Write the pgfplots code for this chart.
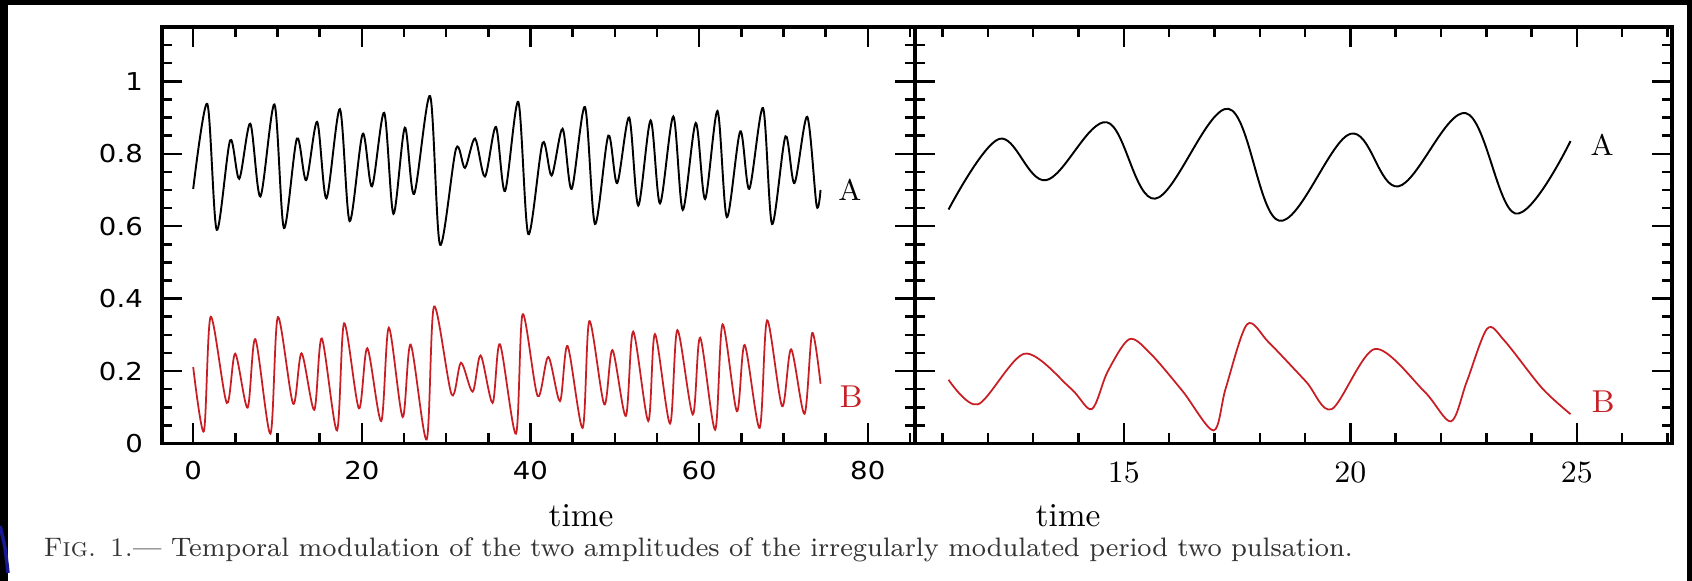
\documentclass[border=0pt]{standalone}
\usepackage{fontspec}
\usepackage{pgfplots}
\pgfplotsset{compat=1.18}
\usepackage{pgfplotstable}
\newfontfamily\dejavu[FakeStretch=1.12]{DejaVu Sans}
\definecolor{curvered}{RGB}{200,30,35}

% left panel: extrema of the two amplitudes, t = 0 ... 74.4
\pgfplotstableread{
t v
0.0 0.703
1.67 0.938
2.79 0.590
4.38 0.837
5.46 0.731
6.77 0.883
7.97 0.682
9.64 0.936
10.76 0.595
12.3 0.842
13.4 0.727
14.7 0.888
15.8 0.677
17.4 0.923
18.55 0.614
20.1 0.855
21.2 0.710
22.65 0.913
23.75 0.634
25.1 0.872
26.2 0.689
28.1 0.959
29.27 0.549
31.17 0.814
32.23 0.761
33.42 0.842
34.6 0.737
35.9 0.874
36.98 0.697
38.56 0.943
39.74 0.578
41.44 0.830
42.51 0.740
43.81 0.869
44.88 0.703
46.46 0.929
47.65 0.606
49.23 0.850
50.28 0.719
51.7 0.900
52.78 0.657
54.25 0.892
55.36 0.663
56.94 0.903
58.06 0.645
59.6 0.885
60.71 0.675
62.18 0.918
63.29 0.625
64.88 0.862
65.95 0.703
67.58 0.926
68.65 0.606
70.24 0.848
71.31 0.719
72.82 0.902
73.93 0.657
74.4 0.700
}\Aleft

\pgfplotstableread{
t v
0.0 0.211
1.27 0.034
2.07 0.350
3.98 0.112
4.98 0.248
6.45 0.099
7.37 0.288
9.16 0.027
10.04 0.349
11.85 0.110
12.85 0.249
14.36 0.093
15.25 0.290
17.05 0.036
17.9 0.332
19.65 0.097
20.65 0.263
22.3 0.062
23.2 0.320
24.84 0.073
25.79 0.273
27.69 0.011
28.56 0.378
30.65 0.135
31.76 0.223
33.14 0.143
34.09 0.243
35.51 0.112
36.38 0.274
38.28 0.027
39.07 0.357
40.85 0.131
42.11 0.239
43.5 0.117
44.4 0.269
46.19 0.043
46.98 0.338
48.75 0.108
49.72 0.258
51.31 0.076
52.18 0.309
53.97 0.062
54.76 0.302
56.55 0.055
57.42 0.313
59.25 0.080
60.12 0.292
61.9 0.038
62.78 0.329
64.48 0.089
65.4 0.272
67.18 0.043
68.06 0.340
69.84 0.103
70.91 0.260
72.5 0.082
73.41 0.305
74.4 0.165
}\Bleft

% right panel: close-up of t = 11 ... 25
\pgfplotstableread{
t v
11.13 0.646
12.25 0.841
13.28 0.727
14.62 0.887
15.69 0.676
17.31 0.924
18.43 0.615
20.0 0.855
21.06 0.710
22.55 0.912
23.64 0.635
24.86 0.835
}\Aright

\pgfplotstableread{
t v
11.13 0.176
11.78 0.108
12.81 0.248
13.82 0.153
14.29 0.095
14.64 0.198
15.12 0.288
15.59 0.248
16.3 0.144
16.98 0.036
17.25 0.153
17.72 0.329
18.2 0.279
19.02 0.171
19.59 0.095
20.54 0.261
21.63 0.144
22.22 0.061
22.57 0.171
23.02 0.317
23.4 0.284
24.23 0.153
24.86 0.081
}\Bright

\pgfplotsset{
  panel/.style={
    scale only axis,
    height=41.65mm,
    ymin=0, ymax=1.15,
    ytick={0,0.2,0.4,0.6,0.8,1},
    minor ytick={0.05,0.1,0.15,0.25,0.3,0.35,0.45,0.5,0.55,0.65,0.7,0.75,0.85,0.9,0.95,1.05,1.1},
    tick align=inside,
    xtick pos=both, ytick pos=both,
    major tick length=2mm, minor tick length=1mm,
    axis line style={line width=0.9pt},
    tick style={line width=0.7pt, black},
    /pgf/number format/assume math mode=true,
    xticklabel style={anchor=north, inner sep=0pt, yshift=-1.75mm},
    yticklabel style={anchor=east, inner sep=0pt, xshift=-1.85mm},
  },
}

\begin{document}
\begin{tikzpicture}
\useasboundingbox (0,0) rectangle (169.2mm,58.1mm);
\fill[black] (0,0) rectangle (169.2mm,58.1mm);
\fill[white] (0.8mm,0) rectangle (168.7mm,57.6mm);
\draw[color={rgb,255:red,25;green,25;blue,150}, line width=1pt]
  (0,5.5mm) .. controls (0.5mm,3.5mm) .. (0.8mm,0.8mm);

\begin{axis}[panel,
  at={(16.2mm,13.75mm)}, anchor=south west,
  width=75.3mm,
  xmin=-3.7, xmax=85.6,
  xtick={0,20,40,60,80},
  minor xtick={5,10,15,25,30,35,45,50,55,65,70,75,85},
  tick label style={font=\fontsize{7}{8}\selectfont\dejavu},
]
\addplot[black, line width=0.55pt, smooth, tension=0.5] table[x=t, y=v] {\Aleft};
\addplot[curvered, line width=0.5pt, smooth, tension=0.5] table[x=t, y=v] {\Bleft};
\end{axis}

\begin{axis}[panel,
  at={(91.5mm,13.75mm)}, anchor=south west,
  width=75.7mm,
  xmin=10.39, xmax=27.1,
  xtick={15,20,25},
  minor xtick={11,12,13,14,16,17,18,19,21,22,23,24,26,27},
  yticklabels={},
  tick label style={font=\fontsize{8.8}{10}\selectfont},
]
\addplot[black, line width=0.55pt, smooth, tension=0.6] table[x=t, y=v] {\Aright};
\addplot[curvered, line width=0.5pt, smooth, tension=0.5] table[x=t, y=v] {\Bright};
\end{axis}

\node[font=\fontsize{8.5}{10}\selectfont] at (85.0mm,39.1mm) {A};
\node[font=\fontsize{9}{10}\selectfont, text=curvered] at (85.1mm,18.4mm) {B};
\node[font=\fontsize{8.5}{10}\selectfont] at (160.2mm,43.6mm) {A};
\node[font=\fontsize{9}{10}\selectfont, text=curvered] at (160.3mm,17.9mm) {B};

\node[anchor=base, font=\fontsize{9.5}{11}\selectfont, inner sep=0pt] at (58.1mm,5.4mm) {time};
\node[anchor=base, font=\fontsize{9.5}{11}\selectfont, inner sep=0pt] at (106.8mm,5.4mm) {time};

\node[anchor=base west, inner sep=0pt, font=\fontsize{7.6}{9}\selectfont, text=black!80]
  at (4.3mm,2.4mm) {\textsc{Fig. 1.}--- Temporal modulation of the two amplitudes of the irregularly modulated period two pulsation.};
\end{tikzpicture}
\end{document}
